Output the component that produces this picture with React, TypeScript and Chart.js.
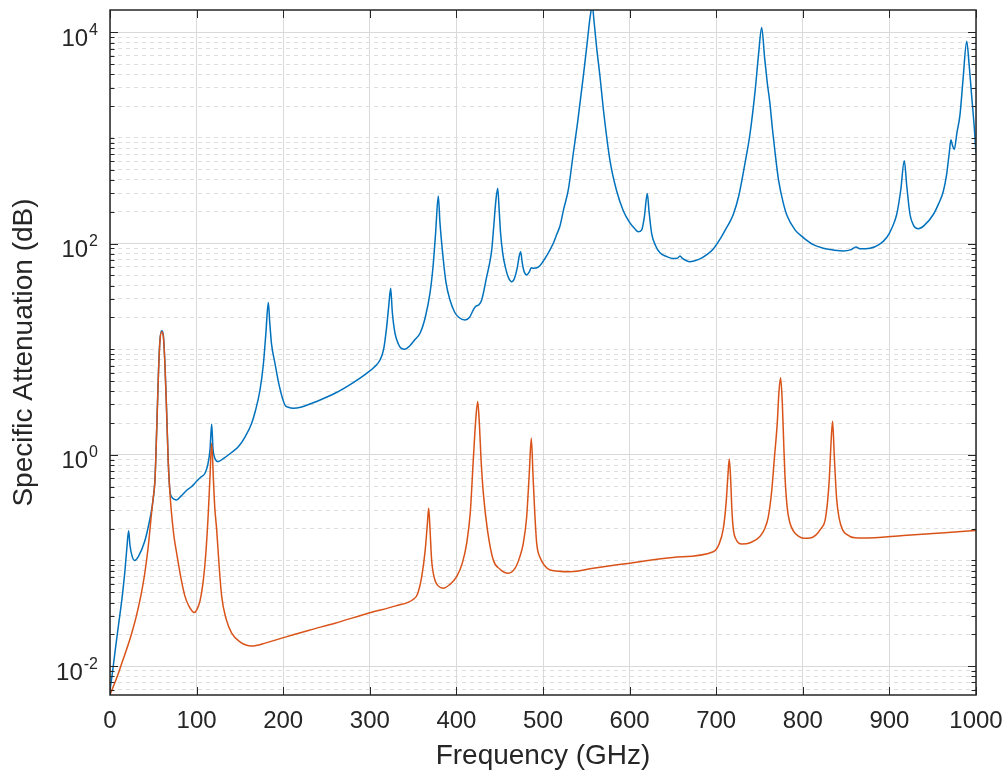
import React, { useEffect, useRef } from "react";
import { Chart, registerables } from "chart.js";

Chart.register(...registerables);

// Blue series (water vapour + total), frequency in GHz and attenuation values
const blueFreq = [
  0, 3, 6, 10, 14, 17, 19.5, 21.5, 23, 25.5, 28.5, 33, 40, 45, 49, 52, 54, 56, 57.7, 59.7,
  61.6, 63.5, 65.4, 67.3, 69.2, 71.5, 74, 77, 82, 88, 94.3, 100, 105, 109.7, 113, 115.5, 117.4, 119, 121, 123,
  125.1, 130, 140, 148.2, 156, 163.6, 168, 173.2, 177, 180, 182.8, 184.5, 186.5, 190.5, 195, 202, 206, 211.7, 220, 240,
  259.8, 280, 296.4, 305, 311.8, 316, 319.5, 322, 324.1, 326, 329.1, 333, 336, 340.6, 346, 352, 358, 364, 369.5, 373,
  376, 379.1, 381, 384.9, 388, 392.6, 398, 403, 409.9, 415, 420, 423, 426, 429.2, 435, 438, 440.8, 443, 445.5, 447.7,
  449.5, 451, 453.5, 457, 460, 463.9, 467, 470, 472.5, 474.2, 476, 478, 481.1, 484, 486.5, 488.8, 494.6, 500, 506, 511.9,
  516, 519.6, 524, 529.2, 535, 540, 546.5, 551, 554.5, 556.9, 559, 562, 565.8, 570, 577.4, 585, 592.7, 600, 606, 610,
  614, 617, 620.4, 622.5, 625.5, 630, 635.1, 642, 650.5, 655, 658.2, 661, 669.7, 680, 690, 696.6, 705, 712, 719.7, 726,
  733, 739, 745, 749, 752.5, 756, 759, 762, 765, 768, 772, 777, 782, 791, 800.6, 812, 823.7, 835, 846.8, 855,
  861.4, 866, 877.6, 888, 896.9, 903, 908.4, 913, 917.2, 920, 923.8, 928, 933.4, 940, 950.7, 957, 962.2, 966, 969, 971.1,
  972.8, 974.9, 978, 981.5, 985, 989.3, 992, 995, 998, 1000,
];
const blueAtten = [
  0.00589, 0.00891, 0.0141, 0.0251, 0.0447, 0.0759, 0.132, 0.191, 0.141, 0.11, 0.1, 0.11, 0.151, 0.224, 0.339, 0.603, 1.82, 6.166, 12.3, 14.96,
  13.49, 7.08, 2.57, 0.851, 0.457, 0.398, 0.38, 0.374, 0.407, 0.457, 0.501, 0.562, 0.617, 0.67, 0.813, 1.122, 1.959, 1.122, 0.933, 0.871,
  0.863, 0.912, 1.047, 1.194, 1.479, 1.995, 2.63, 4.11, 7.08, 14.13, 27.6, 17.78, 11.22, 7.36, 4.677, 2.965, 2.818, 2.761, 2.818, 3.236,
  3.828, 4.786, 5.916, 6.761, 7.907, 10.0, 16.37, 26.3, 37.76, 22.39, 14.16, 11.22, 10.23, 10.0, 10.72, 12.3, 14.16, 19.95, 33.88, 60.26,
  125.9, 282.5, 158.5, 69.98, 42.66, 29.24, 22.39, 19.95, 18.92, 19.95, 23.99, 25.7, 26.3, 29.24, 48.64, 63.1, 87.1, 141.3, 251.2, 333.4,
  199.5, 125.9, 80.91, 57.54, 47.86, 43.55, 46.77, 57.54, 75.86, 83.75, 66.07, 54.95, 50.47, 53.7, 58.88, 58.34, 59.7, 67.61, 81.28, 100.7,
  123.0, 146.6, 213.8, 321.4, 716.1, 1413, 3802, 7943, 14130, 17780, 12590, 7079, 3811, 1778, 606.7, 316.2, 204.6, 158.5, 138.0, 129.4,
  134.9, 177.8, 297.8, 199.5, 124.2, 95.5, 81.66, 75.86, 72.11, 72.44, 76.38, 72.44, 67.45, 70.79, 79.43, 88.92, 112.2, 141.3, 188.4, 281.8,
  562.3, 1089, 2818, 6310, 11070, 5623, 3311, 2138, 1202, 724.4, 398.1, 251.2, 182.0, 134.9, 114.0, 97.72, 90.36, 87.1, 85.11, 87.1,
  92.68, 89.13, 90.36, 97.72, 114.0, 141.3, 188.4, 316.2, 606.7, 354.8, 188.4, 147.9, 138.4, 147.9, 188.4, 239.9, 311.2, 446.7, 707.9, 959.4,
  851.1, 778.0, 1122, 1652, 3548, 8204, 5012, 2500, 1259, 716.1,
];

// Orange series (oxygen / dry air)
const orangeFreq = [
  0, 5, 10, 15, 20, 25, 30, 35, 40, 44, 48, 50, 52, 54, 56, 57.7, 59.7, 61.6, 63.5, 65.4,
  67.3, 69.2, 71, 74, 77, 82, 86.6, 91, 95, 97.4, 100, 104, 107.8, 110.5, 113.5, 115.5, 117.4, 119.5, 121, 123.2,
  126, 129, 134, 140.5, 150, 163.6, 180, 198.3, 230, 259.8, 300, 330, 350, 355, 360, 364, 366.5, 368, 369.5, 371.4,
  375, 379, 384.9, 392, 400.3, 407, 411.9, 416, 419.5, 422.5, 424.6, 426.5, 428.5, 431.1, 436, 442.6, 450, 459.9, 468, 473,
  477.3, 481, 484, 486.5, 488.5, 490.5, 492.7, 497, 502, 508.1, 531.2, 560, 600.6, 650, 696.6, 703, 708.2, 711.5, 713.5, 715.1,
  716.8, 718, 719.7, 723, 729.3, 740, 750.5, 756, 760.1, 764, 767, 770.5, 772.5, 774.4, 776.3, 778, 779.4, 782, 785, 789,
  795, 801, 808.3, 815, 821, 825.6, 828.5, 830.6, 832.5, 834.4, 836.3, 839, 842, 846, 850.6, 860, 869.9, 916.1, 960, 1000,
];
const orangeAtten = [
  0.00537, 0.00676, 0.00871, 0.0115, 0.0151, 0.0204, 0.0288, 0.0437, 0.0741, 0.132, 0.282, 0.398, 0.589, 1.778, 6.026, 12.02, 14.66, 13.18, 6.918, 2.512,
  0.832, 0.437, 0.282, 0.166, 0.117, 0.0676, 0.0457, 0.0372, 0.0331, 0.0321, 0.0339, 0.0417, 0.0655, 0.112, 0.28, 0.631, 1.288, 0.562, 0.316, 0.195,
  0.0891, 0.0455, 0.0282, 0.0205, 0.017, 0.0155, 0.0166, 0.0184, 0.0219, 0.0255, 0.032, 0.0372, 0.0427, 0.0479, 0.0708, 0.126, 0.224, 0.313, 0.2, 0.101,
  0.0661, 0.0575, 0.0546, 0.0589, 0.0703, 0.0955, 0.146, 0.282, 0.895, 2.239, 3.192, 1.995, 0.891, 0.434, 0.191, 0.101, 0.0832, 0.0757, 0.0851, 0.107,
  0.146, 0.251, 0.631, 1.435, 0.631, 0.282, 0.146, 0.105, 0.0891, 0.0813, 0.0783, 0.0851, 0.0944, 0.107, 0.121, 0.141, 0.2, 0.355, 0.631, 0.912,
  0.562, 0.316, 0.2, 0.158, 0.143, 0.148, 0.169, 0.2, 0.257, 0.447, 0.891, 1.995, 3.981, 5.37, 3.162, 1.259, 0.631, 0.316, 0.229, 0.191,
  0.17, 0.162, 0.163, 0.174, 0.2, 0.237, 0.355, 0.592, 1.259, 2.075, 1.0, 0.389, 0.251, 0.195, 0.177, 0.164, 0.163, 0.172, 0.182, 0.192,
];

const xTickValues = [0, 100, 200, 300, 400, 500, 600, 700, 800, 900, 1000];
const yLabelExponents = [-2, 0, 2, 4];
const yLabelBase = "10";
const yLabelPowers = ["-2", "0", "2", "4"];
const yMin = 0.00533;
const yMax = 16250;

const FONT = "'Liberation Sans', Arial, Helvetica, sans-serif";
const TEXT = "#262626";

function majorIndex(v: number): number {
  const e = Math.log10(v);
  const r = Math.round(e);
  if (Math.abs(e - r) > 1e-6) return -1;
  return yLabelExponents.indexOf(r);
}

function buildLogTicks() {
  const t: { value: number }[] = [];
  for (let n = -3; n <= 4; n++) {
    for (let k = 1; k <= 9; k++) {
      const v = parseFloat((k * Math.pow(10, n)).toPrecision(6));
      if (v >= yMin && v <= yMax) t.push({ value: v });
    }
  }
  return t;
}

const framePlugin = {
  id: "frameTicks",
  afterDatasetsDraw(chart: any) {
    const { ctx, chartArea, scales } = chart;
    const { left, right, top, bottom } = chartArea;
    ctx.save();
    ctx.strokeStyle = TEXT;
    ctx.lineWidth = 1;
    ctx.beginPath();
    const ys = scales.y;
    ys.ticks.forEach((t: any) => {
      const p = Math.round(ys.getPixelForValue(t.value)) + 0.5;
      const len = majorIndex(t.value) >= 0 ? 8 : 4.5;
      ctx.moveTo(left, p);
      ctx.lineTo(left + len, p);
      ctx.moveTo(right, p);
      ctx.lineTo(right - len, p);
    });
    const xs = scales.x;
    xTickValues.forEach((v) => {
      const p = Math.round(xs.getPixelForValue(v)) + 0.5;
      ctx.moveTo(p, bottom);
      ctx.lineTo(p, bottom - 8);
      ctx.moveTo(p, top);
      ctx.lineTo(p, top + 8);
    });
    ctx.stroke();
    ctx.lineWidth = 1.5;
    ctx.strokeRect(left, top, right - left, bottom - top);

    // y tick labels as 10 with superscript exponent
    ctx.fillStyle = TEXT;
    ctx.textBaseline = "alphabetic";
    ctx.textAlign = "right";
    const rightEdge = left - 12;
    yLabelExponents.forEach((e, i) => {
      const py = ys.getPixelForValue(Math.pow(10, e));
      ctx.font = `16px ${FONT}`;
      const pw = ctx.measureText(yLabelPowers[i]).width;
      ctx.fillText(yLabelPowers[i], rightEdge, py + 2.5);
      ctx.font = `24px ${FONT}`;
      ctx.fillText(yLabelBase, rightEdge - pw - 1, py + 13.5);
    });
    ctx.restore();
  },
};

export default function App() {
  const ref = useRef<HTMLCanvasElement | null>(null);
  useEffect(() => {
    if (!ref.current) return;
    const chart = new Chart(ref.current, {
      type: "line",
      data: {
        datasets: [
          {
            label: "Water vapor",
            data: blueFreq.map((f, i) => ({ x: f, y: blueAtten[i] })),
            borderColor: "#0072BD",
            borderWidth: 1.5,
            pointRadius: 0,
            cubicInterpolationMode: "monotone",
            order: 2,
          },
          {
            label: "Dry air",
            data: orangeFreq.map((f, i) => ({ x: f, y: orangeAtten[i] })),
            borderColor: "#D95319",
            borderWidth: 1.5,
            pointRadius: 0,
            cubicInterpolationMode: "monotone",
            order: 1,
          },
        ],
      },
      options: {
        responsive: false,
        animation: false,
        devicePixelRatio: 1,
        layout: { padding: { top: 10, right: 32, left: 0, bottom: 0 } },
        plugins: { legend: { display: false }, tooltip: { enabled: false } },
        scales: {
          x: {
            type: "linear",
            min: 0,
            max: 1000,
            afterBuildTicks: (s: any) => {
              s.ticks = xTickValues.map((v) => ({ value: v }));
            },
            afterFit: (s: any) => {
              s.height = 86;
              s.paddingLeft = 0;
              s.paddingRight = 0;
            },
            ticks: {
              color: TEXT,
              font: { family: FONT, size: 24 },
              padding: 12,
              maxRotation: 0,
              autoSkip: false,
              callback: (v: any) => String(v),
            },
            grid: { color: "#dadada", lineWidth: 1, drawTicks: false },
            border: { display: false },
            title: {
              display: true,
              text: "Frequency (GHz)",
              color: TEXT,
              font: { family: FONT, size: 28 },
              padding: { top: 0, bottom: 8 },
            },
          },
          y: {
            type: "logarithmic",
            min: yMin,
            max: yMax,
            afterBuildTicks: (s: any) => {
              s.ticks = buildLogTicks();
            },
            afterFit: (s: any) => {
              s.width = 110;
              s.paddingTop = 0;
              s.paddingBottom = 0;
            },
            ticks: {
              display: false,
              autoSkip: false,
            },
            grid: {
              drawTicks: false,
              lineWidth: 1,
              color: (c: any) =>
                c.tick && majorIndex(c.tick.value) >= 0 ? "#d9d9d9" : "#dedede",
            },
            border: {
              display: false,
              dash: (c: any) =>
                c.tick && majorIndex(c.tick.value) < 0 ? [4, 4] : [],
            },
            title: {
              display: true,
              text: "Specific Attenuation (dB)",
              color: TEXT,
              font: { family: FONT, size: 28 },
              padding: { top: 7, bottom: 0 },
            },
          },
        },
      },
      plugins: [framePlugin],
    } as any);
    return () => chart.destroy();
  }, []);
  return (
    <div style={{ position: "fixed", left: 0, top: 0, width: 1008, height: 781, background: "#fff" }}>
      <canvas ref={ref} width={1008} height={781} style={{ display: "block" }} />
    </div>
  );
}
